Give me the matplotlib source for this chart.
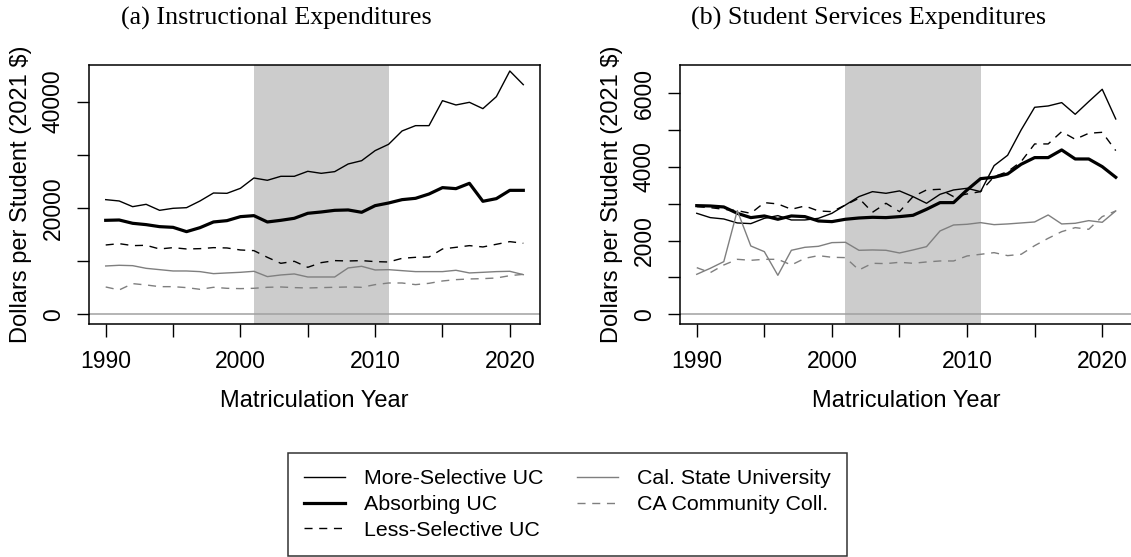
import numpy as np
import matplotlib
matplotlib.use("Agg")
import matplotlib.pyplot as plt
from matplotlib.lines import Line2D

# ---- data ----
years = np.arange(1990, 2022)

# (a) instructional expenditures, dollars per student (2021 $)
instr_more = [21570, 21320, 20250, 20690, 19560, 19940, 20060, 21320, 22820, 22760,
              23700, 25640, 25210, 25960, 25960, 26900, 26520, 26840, 28280, 28900,
              30790, 31980, 34490, 35490, 35490, 40190, 39380, 39880, 38690, 40940,
              45770, 43200]
instr_absorb = [17680, 17740, 17120, 16870, 16490, 16360, 15550, 16300, 17370, 17620,
                18370, 18560, 17370, 17680, 18060, 19000, 19250, 19560, 19630, 19190,
                20440, 20940, 21570, 21820, 22630, 23830, 23640, 24640, 21260, 21760,
                23320, 23320]
instr_less = [13040, 13290, 12920, 12980, 12290, 12540, 12290, 12350, 12540, 12480,
              12100, 11980, 10720, 9590, 9970, 8840, 9720, 10100, 10030, 10100,
              9910, 9840, 10530, 10720, 10780, 12290, 12600, 12920, 12670, 13170,
              13670, 13360]
instr_csu = [9090, 9220, 9150, 8650, 8400, 8150, 8150, 8030, 7650, 7780,
             7900, 8090, 7090, 7400, 7590, 7020, 7020, 7020, 8720, 9030,
             8340, 8400, 8210, 8030, 8030, 8030, 8280, 7780, 7900, 8030,
             8090, 7460]
instr_ccc = [5140, 4580, 5770, 5520, 5200, 5200, 5020, 4700, 5080, 4890,
             4830, 4890, 5080, 5140, 5020, 4950, 5020, 5080, 5140, 5080,
             5580, 5890, 5890, 5580, 5830, 6270, 6520, 6650, 6710, 6830,
             7270, 7520]

# (b) student services expenditures
serv_more = [2742, 2625, 2588, 2480, 2462, 2606, 2679, 2561, 2561, 2606,
             2742, 2968, 3195, 3330, 3285, 3350, 3195, 3014, 3258, 3376,
             3421, 3330, 4036, 4317, 5005, 5620, 5656, 5747, 5430, 5774,
             6109, 5303]
serv_absorb = [2950, 2941, 2914, 2742, 2625, 2670, 2580, 2670, 2652, 2534,
               2516, 2580, 2615, 2634, 2625, 2652, 2688, 2851, 3032, 3032,
               3376, 3683, 3720, 3810, 4073, 4254, 4254, 4462, 4217, 4217,
               4009, 3720]
serv_less = [2923, 2896, 2851, 2815, 2742, 3032, 2996, 2851, 2941, 2806,
             2787, 2968, 3150, 2769, 3014, 2787, 3195, 3376, 3394, 3195,
             3267, 3330, 3738, 3873, 4145, 4625, 4625, 4959, 4751, 4914,
             4941, 4444]
serv_csu = [1086, 1249, 1430, 2815, 1855, 1701, 1059, 1738, 1819, 1846,
            1946, 1955, 1738, 1747, 1738, 1665, 1747, 1837, 2263, 2425,
            2444, 2489, 2434, 2453, 2480, 2507, 2697, 2453, 2471, 2543,
            2498, 2806]
serv_ccc = [1267, 1131, 1339, 1493, 1466, 1493, 1493, 1339, 1520, 1593,
            1548, 1539, 1204, 1385, 1376, 1412, 1385, 1421, 1448, 1448,
            1584, 1629, 1674, 1593, 1629, 1864, 2063, 2244, 2353, 2308,
            2652, 2806]

series_names = ["More-Selective UC", "Absorbing UC", "Less-Selective UC",
                "Cal. State University", "CA Community Coll."]

recession = (2001, 2011)

x_ticks = [1990, 1995, 2000, 2005, 2010, 2015, 2020]
x_ticklabels = ["1990", "", "2000", "", "2010", "", "2020"]
instr_yticks = [0, 10000, 20000, 30000, 40000]
instr_yticklabels = ["0", "", "20000", "", "40000"]
serv_yticks = [0, 1000, 2000, 3000, 4000, 5000, 6000]
serv_yticklabels = ["0", "", "2000", "", "4000", "", "6000"]

# ---- styles ----
DASH = (0, (5.8, 4.8))
styles = [
    dict(color="black", lw=1.0, ls="-"),
    dict(color="black", lw=2.3, ls="-"),
    dict(color="black", lw=1.0, ls=DASH),
    dict(color="#7f7f7f", lw=1.0, ls="-"),
    dict(color="#7f7f7f", lw=1.0, ls=DASH),
]

plt.rcParams["font.family"] = ["Liberation Sans", "DejaVu Sans"]

fig = plt.figure(figsize=(11.31, 5.57), dpi=100)
W, H = 1131, 557


def px_axes(left, top, right, bottom):
    return fig.add_axes([left / W, 1 - bottom / H, (right - left) / W, (bottom - top) / H])


ax_a = px_axes(89, 65, 540, 324)
ax_b = px_axes(680, 65, 1132.5, 324)


def draw_panel(ax, data, ylim, yticks, yticklabels):
    ax.axvspan(recession[0], recession[1], color="#cccccc", lw=0, zorder=0)
    ax.axhline(0, color="#a0a0a0", lw=1.1, zorder=1)
    for vals, st in zip(data, styles):
        ax.plot(years, vals, zorder=3, solid_joinstyle="round", **st)
    ax.set_xlim(1988.76, 2022.24)
    ax.set_ylim(*ylim)
    ax.set_xticks(x_ticks, labels=x_ticklabels)
    ax.set_yticks(yticks, labels=yticklabels, rotation=90, va="center")
    ax.tick_params(axis="both", direction="out", length=9, width=1.0,
                   labelsize=16.5, color="black")
    ax.tick_params(axis="x", pad=10)
    ax.tick_params(axis="y", pad=8.5)
    for sp in ax.spines.values():
        sp.set_linewidth(1.1)
    ax.set_xlabel("Matriculation Year", fontsize=17)
    ax.set_ylabel("Dollars per Student (2021 $)", fontsize=17)
    ax.xaxis.set_label_coords(0.5, -0.255)
    ax.yaxis.set_label_coords(-0.127, 0.5)


draw_panel(ax_a, [instr_more, instr_absorb, instr_less, instr_csu, instr_ccc],
           (-1825, 46900), instr_yticks, instr_yticklabels)
draw_panel(ax_b, [serv_more, serv_absorb, serv_less, serv_csu, serv_ccc],
           (-263, 6768), serv_yticks, serv_yticklabels)

fig.text(276.5 / W, 1 - 18 / H, "(a) Instructional Expenditures",
         family=["Liberation Serif", "DejaVu Serif"], fontsize=18.7, ha="center", va="center")
fig.text(869 / W, 1 - 18 / H, "(b) Student Services Expenditures",
         family=["Liberation Serif", "DejaVu Serif"], fontsize=18.7, ha="center", va="center")

handles = [Line2D([], [], **st) for st in styles]
leg = fig.legend(handles, series_names, ncol=2, loc="center",
                 bbox_to_anchor=(567.5 / W, 1 - 504.5 / H),
                 fontsize=15.4, frameon=True, fancybox=False, shadow=False,
                 handlelength=1.92, handletextpad=0.89, columnspacing=1.59,
                 labelspacing=0.32, borderpad=0.75)
leg.get_frame().set_edgecolor("black")
leg.get_frame().set_linewidth(1.1)

fig.savefig("out.png", dpi=100)
